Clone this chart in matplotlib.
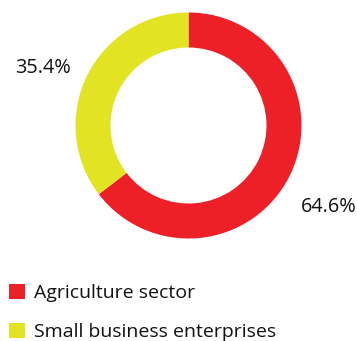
import matplotlib
matplotlib.use("Agg")
import matplotlib.pyplot as plt
from matplotlib.patches import Patch

categories = ["Agriculture sector", "Small business enterprises"]
shares = [64.6, 35.4]
colors = ["#ED1F27", "#E2E423"]

W, H = 357, 341
fig = plt.figure(figsize=(W / 100, H / 100), dpi=100)
plt.rcParams['font.family'] = ['Open Sans', 'DejaVu Sans']
ax = fig.add_axes([0, 0, 1, 1])
ax.set_xlim(0, W)
ax.set_ylim(0, H)
ax.set_aspect('equal')
ax.axis('off')

wedges, texts, autotexts = ax.pie(
    shares, colors=colors, startangle=90, counterclock=False,
    center=(188.5, H - 125.5), radius=113,
    wedgeprops=dict(width=35, linewidth=0),
    autopct=lambda p: f"{p:.1f}%", pctdistance=1.38,
    textprops=dict(fontsize=14.3, color="#111111"),
)
# nudge the percentage labels slightly below their radial spot
for t, dx in zip(autotexts, (0, -6)):
    x, y = t.get_position()
    t.set_position((x + dx, y - 12))
ax.set_xlim(0, W)
ax.set_ylim(0, H)

handles = [Patch(facecolor=c, edgecolor='none') for c in colors]
fig.legend(handles, categories, loc='upper left', bbox_to_anchor=(0.008, 1 - 278 / H),
           frameon=False, fontsize=14, handlelength=0.86, handleheight=0.86,
           handletextpad=0.42, labelspacing=1.05, borderaxespad=0, borderpad=0.3,
           labelcolor="#111111")

fig.savefig("out.png", dpi=100)
